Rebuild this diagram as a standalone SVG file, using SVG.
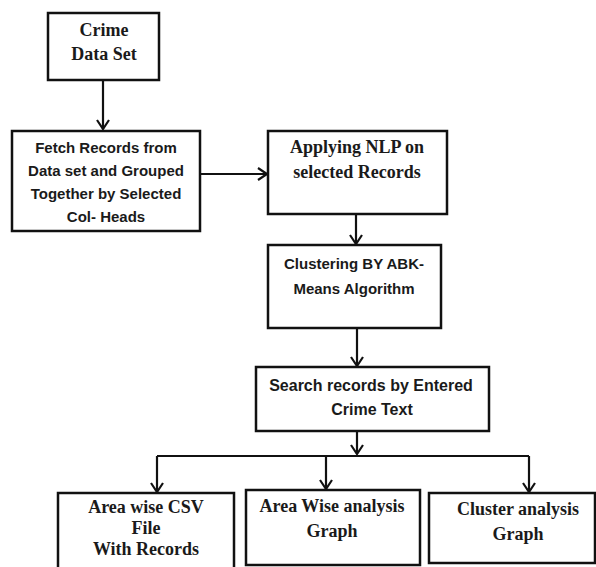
<svg xmlns="http://www.w3.org/2000/svg" width="596" height="567" viewBox="0 0 596 567">
<defs>
<marker id="ah" markerUnits="userSpaceOnUse" markerWidth="20" markerHeight="20" viewBox="-12 -10 14 20" refX="0" refY="0" orient="auto">
<path d="M-9,-6 L0,0 L-9,6" fill="none" stroke="#111" stroke-width="2.2"/>
</marker>
</defs>
<style>
.box{fill:#fff;stroke:#111;stroke-width:2.5}
.ser{font-family:"Liberation Serif","Times New Roman",serif;font-weight:bold;font-size:18px;fill:#1a1a1a;text-anchor:middle}
.san{font-family:"Liberation Sans",Arial,sans-serif;font-weight:bold;font-size:15px;fill:#1a1a1a;text-anchor:middle}
.ln{fill:none;stroke:#111;stroke-width:2.2}
</style>
<rect width="596" height="567" fill="#fff"/>
<g id="connectors">
<line class="ln" x1="103" y1="80" x2="103" y2="129" marker-end="url(#ah)"/>
<line class="ln" x1="200" y1="174" x2="267" y2="174" marker-end="url(#ah)"/>
<line class="ln" x1="356" y1="214" x2="356" y2="244" marker-end="url(#ah)"/>
<line class="ln" x1="357" y1="328" x2="357" y2="366" marker-end="url(#ah)"/>
<line class="ln" x1="357" y1="431" x2="357" y2="454" marker-end="url(#ah)"/>
<polyline class="ln" points="157,456 529,456"/>
<line class="ln" x1="157" y1="456" x2="157" y2="492" marker-end="url(#ah)"/>
<line class="ln" x1="326" y1="456" x2="326" y2="489" marker-end="url(#ah)"/>
<line class="ln" x1="529" y1="456" x2="529" y2="492" marker-end="url(#ah)"/>
</g>
<g id="crime-data-set">
<rect class="box" x="48" y="13" width="111" height="67"/>
<text class="ser" x="104" y="36">Crime</text>
<text class="ser" x="104" y="60">Data Set</text>
</g>
<g id="fetch-records">
<rect class="box" x="12" y="131" width="188" height="100"/>
<text class="san" x="106" y="153">Fetch Records from</text>
<text class="san" x="106" y="176">Data set and Grouped</text>
<text class="san" x="106" y="199">Together by Selected</text>
<text class="san" x="106" y="222">Col- Heads</text>
</g>
<g id="applying-nlp">
<rect class="box" x="268" y="131" width="179" height="83"/>
<text class="ser" x="357" y="153">Applying NLP on</text>
<text class="ser" x="357" y="178">selected Records</text>
</g>
<g id="clustering">
<rect class="box" x="268" y="245" width="173" height="83"/>
<text class="san" x="354" y="269">Clustering BY ABK-</text>
<text class="san" x="354" y="294">Means Algorithm</text>
</g>
<g id="search-records">
<rect class="box" x="256" y="367" width="233" height="64"/>
<text class="san" x="371" y="391" style="font-size:16px">Search records by Entered</text>
<text class="san" x="372" y="415" style="font-size:16px">Crime Text</text>
</g>
<g id="area-wise-csv">
<rect class="box" x="58" y="493" width="176" height="80"/>
<text class="ser" x="146" y="513">Area wise CSV</text>
<text class="ser" x="146" y="534">File</text>
<text class="ser" x="146" y="555">With Records</text>
</g>
<g id="area-wise-analysis">
<rect class="box" x="246" y="490" width="174" height="75"/>
<text class="ser" x="332" y="512">Area Wise analysis</text>
<text class="ser" x="332" y="537">Graph</text>
</g>
<g id="cluster-analysis">
<rect class="box" x="429" y="493" width="166" height="70"/>
<text class="ser" x="518" y="515">Cluster analysis</text>
<text class="ser" x="518" y="540">Graph</text>
</g>
</svg>
